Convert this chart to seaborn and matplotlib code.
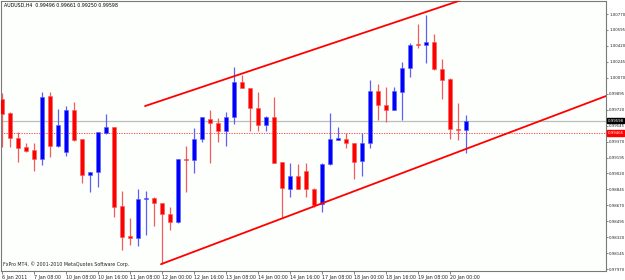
import numpy as np
import pandas as pd
import seaborn as sns
import matplotlib
matplotlib.use("Agg")
import matplotlib.pyplot as plt
import matplotlib.transforms as mtransforms
from matplotlib import font_manager

# ---------------- data (AUDUSD H4) ----------------
opens = [0.99837, 0.99683, 0.99409, 0.99310, 0.99277, 0.99178, 0.99870, 0.99321, 0.99255, 0.99716,
         0.99398, 0.99002, 0.99035, 0.99463, 0.99529, 0.98662, 0.98332, 0.98310, 0.98739, 0.98750,
         0.98695, 0.98574, 0.98486, 0.99178, 0.99167, 0.99398, 0.99617, 0.99573, 0.99485, 0.99639,
         1.00023, 0.99958, 0.99738, 0.99551, 0.99639, 0.99145, 0.98848, 0.98991, 0.99046, 0.98848,
         0.98684, 0.99123, 0.99387, 0.99398, 0.99354, 0.99156, 0.99354, 0.99925, 0.99771, 0.99716,
         0.99914, 1.00177, 1.00441, 1.00430, 1.00463, 1.00166, 1.00056, 0.99507, 0.99496]
highs = [0.99903, 0.99694, 0.99474, 0.99354, 0.99354, 0.99914, 0.99914, 0.99727, 0.99760, 0.99804,
         0.99398, 0.99035, 0.99474, 0.99672, 0.99535, 0.98827, 0.98530, 0.98848, 0.98827, 0.98761,
         0.98700, 0.98651, 0.99178, 0.99321, 0.99518, 0.99639, 0.99716, 0.99628, 0.99694, 1.00188,
         1.00100, 0.99960, 0.99914, 0.99650, 0.99859, 0.99150, 0.99134, 0.99123, 0.99134, 0.98860,
         0.99134, 0.99683, 0.99529, 0.99463, 0.99360, 0.99463, 1.00045, 1.00001, 0.99968, 0.99968,
         1.00243, 1.00452, 1.00660, 1.00759, 1.00550, 1.00276, 1.00067, 0.99793, 0.99661]
lows = [0.99310, 0.99310, 0.99145, 0.99255, 0.99046, 0.99112, 0.99200, 0.99310, 0.99211, 0.99380,
        0.98914, 0.98816, 0.98870, 0.99452, 0.98541, 0.98179, 0.98234, 0.98223, 0.98343, 0.98442,
        0.98025, 0.98398, 0.98475, 0.98816, 0.99024, 0.99365, 0.99134, 0.99365, 0.99321, 0.99562,
        0.99955, 0.99485, 0.99485, 0.99485, 0.99130, 0.98530, 0.98761, 0.98845, 0.98761, 0.98651,
        0.98596, 0.99112, 0.99385, 0.99299, 0.98958, 0.98991, 0.99299, 0.99606, 0.99584, 0.99712,
        0.99606, 1.00078, 1.00397, 1.00232, 1.00160, 0.99837, 0.99398, 0.99387, 0.99250]
closes = [0.99672, 0.99409, 0.99299, 0.99266, 0.99178, 0.99859, 0.99321, 0.99551, 0.99716, 0.99387,
          0.99002, 0.99035, 0.99470, 0.99529, 0.98651, 0.98321, 0.98310, 0.98739, 0.98750, 0.98695,
          0.98574, 0.98486, 0.99175, 0.99167, 0.99398, 0.99635, 0.99573, 0.99485, 0.99639, 1.00023,
          0.99958, 0.99738, 0.99551, 0.99639, 0.99134, 0.98860, 0.98991, 0.98848, 0.98848, 0.98673,
          0.99123, 0.99398, 0.99409, 0.99354, 0.99145, 0.99354, 0.99925, 0.99771, 0.99716, 0.99925,
          1.00177, 1.00430, 1.00430, 1.00463, 1.00166, 1.00045, 0.99507, 0.99496, 0.99598]

time_labels = ["6 Jan 2011", "7 Jan 08:00", "10 Jan 08:00", "10 Jan 16:00", "11 Jan 08:00",
               "12 Jan 00:00", "12 Jan 16:00", "13 Jan 08:00", "14 Jan 00:00", "14 Jan 16:00",
               "17 Jan 08:00", "18 Jan 00:00", "18 Jan 16:00", "19 Jan 08:00", "20 Jan 00:00"]
time_label_bars = [0, 4, 8, 12, 16, 20, 24, 28, 32, 36, 40, 44, 48, 52, 56]

price_ticks = [0.97970, 0.98145, 0.98320, 0.98495, 0.98670, 0.98845, 0.99020, 0.99195, 0.99370,
               0.99545, 0.99720, 0.99895, 1.00070, 1.00245, 1.00420, 1.00595, 1.00770]

bid_price = 0.99598
order_price = 0.99465

# trend line anchor points (bar index, price)
upper_line_x = [17.875, 56.875]
upper_line_y = [0.99760, 1.00907]
lower_line_x = [19.875, 75.5]
lower_line_y = [0.98025, 0.99870]

title_text = "AUDUSD,H4  0.99496 0.99661 0.99250 0.99598"
copyright_text = "FxPro MT4, \u00a9 2001-2010 MetaQuotes Software Corp."

# ---------------- figure ----------------
sns.set_theme(style="white")
plt.rcParams["font.family"] = ["DejaVu Sans"]

installed = {f.name for f in font_manager.fontManager.ttflist}
if "Liberation Sans Narrow" in installed:
    yfam, yfs = ["Liberation Sans Narrow", "DejaVu Sans"], 3.4
else:
    yfam, yfs = ["DejaVu Sans"], 2.75

W, H = 625, 280
fig = plt.figure(figsize=(W / 100, H / 100), dpi=100)
fig.patch.set_facecolor("white")
ax_left, ax_right, ax_top, ax_bottom = 1, 606, 1, 271
ax = fig.add_axes([ax_left / W, (H - ax_bottom) / H, (ax_right - ax_left) / W, (ax_bottom - ax_top) / H])
ax.set_facecolor("#fdfffd")

df = pd.DataFrame({"open": opens, "high": highs, "low": lows, "close": closes})
df["bar"] = np.arange(len(df))
df["bull"] = df["close"] >= df["open"]
df["body_lo"] = df[["open", "close"]].min(axis=1)
df["body_h"] = (df["close"] - df["open"]).abs().clip(lower=0.00011)

x_min, x_max = -0.125, 75.5
y_min, y_max = 0.97950, 1.00913
ax.set_xlim(x_min, x_max)
ax.set_ylim(y_min, y_max)

# horizontal levels
ax.axhline(bid_price, color="#bdbdbd", lw=0.9, zorder=1)
ax.axhline(order_price, color="#ff3030", lw=0.6, ls=(0, (1.5, 1.5)), zorder=1)

bull_c, bear_c = "#0000ff", "#ff0000"
wick_bull, wick_bear = "#5f5ff5", "#f25c5c"
for _, r in df.iterrows():
    wc = wick_bull if r["bull"] else wick_bear
    bc = bull_c if r["bull"] else bear_c
    ax.vlines(r["bar"], r["low"], r["high"], color=wc, lw=0.9, zorder=2)
    ax.bar(r["bar"], r["body_h"], bottom=r["body_lo"], width=0.62, color=bc,
           edgecolor=wc, linewidth=0.4, zorder=3)

# trend lines (rays to the right)
def ray(xs, ys, x_end):
    slope = (ys[1] - ys[0]) / (xs[1] - xs[0])
    return [xs[0], x_end], [ys[0], ys[0] + slope * (x_end - xs[0])]

ux, uy = ray(upper_line_x, upper_line_y, x_max)
lx, ly = ray(lower_line_x, lower_line_y, x_max)
sns.lineplot(x=ux, y=uy, ax=ax, color="#ff0000", lw=1.3, zorder=4)
sns.lineplot(x=lx, y=ly, ax=ax, color="#ff0000", lw=1.3, zorder=4)

# spines
for s in ax.spines.values():
    s.set_color("#7a7a7a")
    s.set_linewidth(0.8)

fs = 3.4
ax.yaxis.tick_right()
ax.set_yticks(price_ticks)
ax.set_yticklabels([f"{v:.5f}" for v in price_ticks])
ax.tick_params(axis="y", which="both", right=True, left=False, length=1.5, width=0.5,
               color="#555555", labelsize=yfs, labelcolor="#222222", pad=0.8, direction="out")
for lbl in ax.get_yticklabels():
    lbl.set_family(yfam)

ax.set_xticks(time_label_bars)
ax.set_xticklabels(time_labels, ha="left")
ax.tick_params(axis="x", which="both", bottom=True, length=2, width=0.5, color="#555555",
               labelsize=fs, labelcolor="#222222", pad=1.0, direction="out")
for lbl in ax.get_xticklabels():
    lbl.set_horizontalalignment("left")
ax.set_xlabel("")
ax.set_ylabel("")
ax.grid(False)

# texts
ax.text(3 / (ax_right - ax_left), 1 - 2 / (ax_bottom - ax_top), title_text, transform=ax.transAxes,
        fontsize=fs, color="black", ha="left", va="top")
ax.text(2 / (ax_right - ax_left), 4 / (ax_bottom - ax_top), copyright_text, transform=ax.transAxes,
        fontsize=fs, color="#222222", ha="left", va="bottom")

trans = mtransforms.blended_transform_factory(ax.transAxes, ax.transData)
ax.text(1.0025, bid_price, f"{bid_price:.5f}", transform=trans, fontsize=yfs, family=yfam,
        color="white", ha="left", va="center",
        bbox=dict(boxstyle="square,pad=0.15", fc="black", ec="black"), clip_on=False, zorder=6)
ax.text(1.0025, order_price, f"{order_price:.5f}", transform=trans, fontsize=yfs, family=yfam,
        color="white", ha="left", va="center",
        bbox=dict(boxstyle="square,pad=0.15", fc="#ff0000", ec="#ff0000"), clip_on=False, zorder=6)

fig.savefig("out.png", dpi=100, facecolor="white")
